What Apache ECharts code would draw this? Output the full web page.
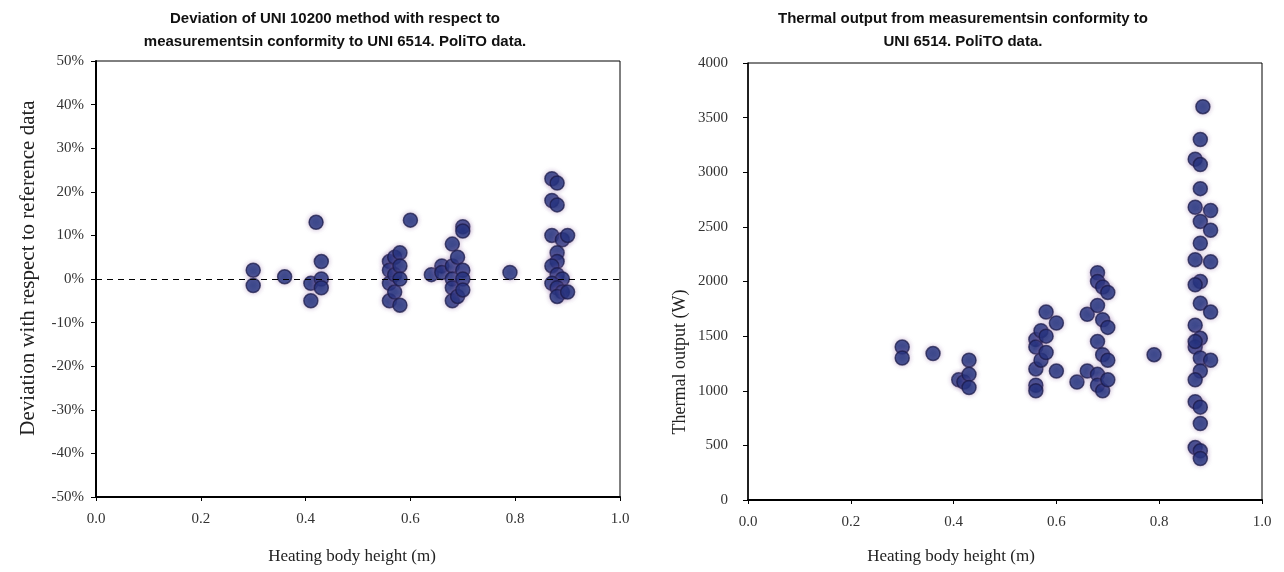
<!DOCTYPE html>
<html>
<head>
<meta charset="utf-8">
<script src="https://cdn.jsdelivr.net/npm/echarts@6/dist/echarts.min.js"></script>
<style>
  html, body { margin: 0; padding: 0; background: #fff; }
  #main { width: 1284px; height: 572px; }
</style>
</head>
<body>
<div id="main"></div>
<script>
// deviation chart (left): heights in m, deviation in %
const devHeight = [
  0.30, 0.30, 0.36, 0.41, 0.41, 0.42, 0.43, 0.43, 0.43,
  0.56, 0.56, 0.56, 0.56, 0.57, 0.57, 0.57, 0.58, 0.58, 0.58, 0.58,
  0.60, 0.64, 0.66, 0.66,
  0.68, 0.68, 0.68, 0.68, 0.68, 0.69, 0.69, 0.70, 0.70, 0.70, 0.70, 0.70,
  0.79,
  0.87, 0.88, 0.87, 0.88, 0.87, 0.89, 0.90, 0.88, 0.88, 0.87, 0.88, 0.89,
  0.87, 0.88, 0.89, 0.88, 0.90
]
const devValue = [
  2, -1.5, 0.5, -1, -5, 13, 4, 0, -2,
  4, 2, -1, -5, 5, 1, -3, 6, 3, 0, -6,
  13.5, 1, 3, 1.5,
  8, 3, 0, -2, -5, 5, -4, 12, 11, 2, 0, -2.5,
  1.5,
  23, 22, 18, 17, 10, 9, 10, 6, 4, 3, 1, 0,
  -1, -2, -3, -4, -3
]

// thermal output chart (right): heights in m, output in W
const outHeight = [
  0.30, 0.30, 0.36, 0.41, 0.42, 0.43, 0.43, 0.43,
  0.56, 0.56, 0.56, 0.56, 0.56, 0.57, 0.57, 0.58, 0.58, 0.58, 0.60, 0.60,
  0.64, 0.66, 0.66,
  0.68, 0.68, 0.68, 0.68, 0.68, 0.68, 0.69, 0.69, 0.69, 0.69, 0.70, 0.70, 0.70, 0.70,
  0.79,
  0.885, 0.88, 0.87, 0.88, 0.88, 0.87, 0.90, 0.88, 0.90, 0.88, 0.87, 0.90,
  0.88, 0.87, 0.88, 0.87, 0.90, 0.88, 0.87, 0.88, 0.87, 0.90, 0.88, 0.87,
  0.87, 0.88, 0.88, 0.87, 0.88, 0.88
]
const outValue = [
  1400, 1300, 1340, 1100, 1080, 1280, 1150, 1030,
  1470, 1400, 1200, 1050, 1000, 1550, 1280, 1720, 1500, 1350, 1620, 1180,
  1080, 1700, 1180,
  2080, 2000, 1780, 1450, 1150, 1050, 1950, 1650, 1330, 1000, 1900, 1580, 1280, 1100,
  1330,
  3600, 3300, 3120, 3070, 2850, 2680, 2650, 2550, 2470, 2350, 2200, 2180,
  2000, 1970, 1800, 1600, 1720, 1480, 1400, 1300, 1450, 1280, 1180, 1100,
  900, 850, 700, 480, 450, 380
]

const xTicks = [0, 0.2, 0.4, 0.6, 0.8, 1.0]

const chart = echarts.init(document.getElementById('main'))

const serif = 'Liberation Serif'
const sans = 'Liberation Sans'

function xAxisFor(gridIndex) {
  return {
    gridIndex: gridIndex,
    type: 'value',
    min: xTicks[0],
    max: xTicks[xTicks.length - 1],
    interval: 0.2,
    axisLine: { onZero: false, lineStyle: { color: '#000', width: 2 } },
    axisTick: { show: true, length: 4, lineStyle: { color: '#000' } },
    axisLabel: {
      fontFamily: serif, fontSize: 15, color: '#333', margin: 15,
      formatter: v => v.toFixed(1)
    },
    splitLine: { show: false }
  }
}

const markerStyle = {
  color: '#172a78',
  borderColor: 'rgba(25,25,70,0.9)',
  borderWidth: 1.5,
  shadowBlur: 5,
  shadowColor: 'rgba(150,110,170,0.55)'
}

const labelText = { fontFamily: serif, fill: '#222' }

chart.setOption({
  animation: false,
  title: [
    {
      text: 'Deviation of UNI 10200 method with respect to\nmeasurementsin conformity to UNI 6514. PoliTO data.',
      left: 330, top: 2, textAlign: 'center',
      textStyle: { fontFamily: sans, fontSize: 15, fontWeight: 'bold', color: '#111', lineHeight: 23 }
    },
    {
      text: 'Thermal output from measurementsin conformity to\nUNI 6514. PoliTO data.',
      left: 958, top: 2, textAlign: 'center',
      textStyle: { fontFamily: sans, fontSize: 15, fontWeight: 'bold', color: '#111', lineHeight: 23 }
    }
  ],
  grid: [
    { left: 96, right: 664, top: 61, bottom: 75, show: true, borderColor: '#000', borderWidth: 1 },
    { left: 748, right: 22, top: 63, bottom: 72, show: true, borderColor: '#000', borderWidth: 1 }
  ],
  // axis titles placed as text, the reference puts them off-centre
  graphic: [
    {
      type: 'text', x: 352, y: 557, silent: true,
      style: Object.assign({ text: 'Heating body height (m)', fontSize: 17, align: 'center', verticalAlign: 'middle' }, labelText)
    },
    {
      type: 'text', x: 951, y: 557, silent: true,
      style: Object.assign({ text: 'Heating body height (m)', fontSize: 17, align: 'center', verticalAlign: 'middle' }, labelText)
    },
    {
      type: 'text', x: 28, y: 268, rotation: Math.PI / 2, silent: true,
      style: Object.assign({ text: 'Deviation with respect to reference data', fontSize: 21, align: 'center', verticalAlign: 'middle' }, labelText)
    },
    {
      type: 'text', x: 680, y: 362, rotation: Math.PI / 2, silent: true,
      style: Object.assign({ text: 'Thermal output (W)', fontSize: 18, align: 'center', verticalAlign: 'middle' }, labelText)
    }
  ],
  xAxis: [xAxisFor(0), xAxisFor(1)],
  yAxis: [
    {
      gridIndex: 0,
      type: 'value',
      min: -50, max: 50, interval: 10,
      axisLine: { show: true, onZero: false, lineStyle: { color: '#000', width: 2 } },
      axisTick: { show: true, length: 5, lineStyle: { color: '#000' } },
      axisLabel: { fontFamily: serif, fontSize: 15, color: '#333', margin: 12, formatter: v => v + '%' },
      splitLine: { show: false }
    },
    {
      gridIndex: 1,
      type: 'value',
      min: 0, max: 4000, interval: 500,
      axisLine: { show: true, onZero: false, lineStyle: { color: '#000', width: 1.5 } },
      axisTick: { show: true, length: 5, lineStyle: { color: '#000' } },
      axisLabel: { fontFamily: serif, fontSize: 15, color: '#333', margin: 20, formatter: v => String(v) },
      splitLine: { show: false }
    }
  ],
  series: [
    {
      type: 'scatter',
      xAxisIndex: 0, yAxisIndex: 0,
      symbolSize: 14,
      itemStyle: markerStyle,
      data: devHeight.map((h, i) => [h, devValue[i]]),
      markLine: {
        silent: true,
        symbol: 'none',
        label: { show: false },
        lineStyle: { color: '#000', type: [6, 5], width: 1.2 },
        data: [{ yAxis: 0 }]
      }
    },
    {
      type: 'scatter',
      xAxisIndex: 1, yAxisIndex: 1,
      symbolSize: 14,
      itemStyle: markerStyle,
      data: outHeight.map((h, i) => [h, outValue[i]])
    }
  ]
})
</script>
</body>
</html>
